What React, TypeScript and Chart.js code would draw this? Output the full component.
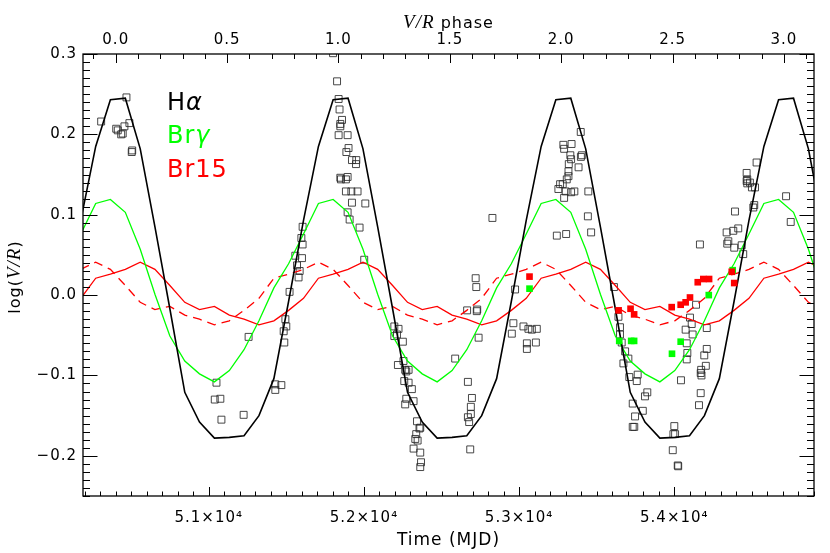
import React, { useEffect, useRef } from 'react';
import { Chart, registerables } from 'chart.js';

Chart.register(...registerables);

// ---- axis ranges and tick labels ----
const mjdRange = [50190, 54900];
const phaseRange = [-0.147, 3.135];
const logVRRange = [-0.25, 0.3];
const mjdTicks = [51000, 52000, 53000, 54000];
const phaseTicks = [0, 0.5, 1, 1.5, 2, 2.5, 3];
const logVRTicks = [-0.2, -0.1, 0, 0.1, 0.2, 0.3];

// ---- model curves (x in V/R phase) ----
const modelPhase = [
  -0.157, -0.09, -0.024, 0.043, 0.11, 0.176, 0.243, 0.31, 0.376, 0.443, 0.51, 0.576, 0.643, 0.71, 0.776, 0.843, 0.91,
  0.976, 1.043, 1.11, 1.176, 1.243, 1.31, 1.376, 1.443, 1.51, 1.576, 1.643, 1.71, 1.776, 1.843, 1.91,
  1.976, 2.043, 2.11, 2.176, 2.243, 2.31, 2.376, 2.443, 2.51, 2.576, 2.643, 2.71, 2.776, 2.843, 2.91,
  2.976, 3.043, 3.11, 3.176,
];
const modelHalpha = [
  0.093, 0.185, 0.243, 0.245, 0.182, 0.085, -0.017, -0.121, -0.158, -0.178, -0.177, -0.175, -0.15, -0.104, -0.008, 0.093, 0.185,
  0.243, 0.245, 0.182, 0.085, -0.017, -0.121, -0.158, -0.178, -0.177, -0.175, -0.15, -0.104, -0.008, 0.093, 0.185,
  0.243, 0.245, 0.182, 0.085, -0.017, -0.121, -0.158, -0.178, -0.177, -0.175, -0.15, -0.104, -0.008, 0.093, 0.185,
  0.243, 0.245, 0.182, 0.085,
];
const modelBrGamma = [
  0.076, 0.114, 0.119, 0.103, 0.057, 0.001, -0.051, -0.082, -0.098, -0.108, -0.094, -0.068, -0.032, 0.009, 0.039, 0.076, 0.114,
  0.119, 0.103, 0.057, 0.001, -0.051, -0.082, -0.098, -0.108, -0.094, -0.068, -0.032, 0.009, 0.039, 0.076, 0.114,
  0.119, 0.103, 0.057, 0.001, -0.051, -0.082, -0.098, -0.108, -0.094, -0.068, -0.032, 0.009, 0.039, 0.076, 0.114,
  0.119, 0.103, 0.057, 0.001,
];
const modelBr15 = [
  -0.004, 0.021, 0.026, 0.032, 0.041, 0.032, 0.012, -0.009, -0.018, -0.014, -0.025, -0.03, -0.037, -0.032, -0.019, -0.004, 0.021,
  0.026, 0.032, 0.041, 0.032, 0.012, -0.009, -0.018, -0.014, -0.025, -0.03, -0.037, -0.032, -0.019, -0.004, 0.021,
  0.026, 0.032, 0.041, 0.032, 0.012, -0.009, -0.018, -0.014, -0.025, -0.03, -0.037, -0.032, -0.019, -0.004, 0.021,
  0.026, 0.032, 0.041, 0.032,
];
const modelBr15Dashed = [
  0.032, 0.041, 0.032, 0.012, -0.009, -0.018, -0.014, -0.025, -0.03, -0.037, -0.032, -0.019, -0.004, 0.021, 0.026, 0.032, 0.041,
  0.032, 0.012, -0.009, -0.018, -0.014, -0.025, -0.03, -0.037, -0.032, -0.019, -0.004, 0.021, 0.026, 0.032, 0.041,
  0.032, 0.012, -0.009, -0.018, -0.014, -0.025, -0.03, -0.037, -0.032, -0.019, -0.004, 0.021, 0.026, 0.032, 0.041,
  0.032, 0.012, -0.009, -0.018,
];

// ---- observations: [MJD, log(V/R)] ----
const halphaObs: [number, number][] = [
  [50307, 0.216], [50404, 0.207], [50414, 0.205], [50436, 0.2], [50446, 0.201], [50457, 0.21], [50470, 0.246],
  [50489, 0.214], [50504, 0.178], [50507, 0.18],
  [51039, -0.13], [51050, -0.109], [51075, -0.129], [51082, -0.155], [51225, -0.149], [51257, -0.052],
  [51429, -0.111], [51429, -0.118], [51468, -0.112], [51483, -0.045], [51487, -0.059], [51494, -0.03], [51500, -0.039],
  [51521, 0.004], [51558, 0.049], [51569, 0.037], [51579, 0.022], [51586, 0.03], [51597, 0.071], [51601, 0.046],
  [51605, 0.063], [51605, 0.085],
  [51801, 0.301], [51827, 0.266], [51837, 0.244], [51843, 0.231], [51848, 0.213], [51848, 0.21], [51859, 0.218],
  [51837, 0.199], [51895, 0.199], [51901, 0.183], [51887, 0.178], [51923, 0.168], [51951, 0.168], [51949, 0.163],
  [51848, 0.146], [51895, 0.147], [51884, 0.144], [51884, 0.129], [51919, 0.129], [51959, 0.129], [51852, 0.144],
  [51923, 0.115], [52009, 0.114], [51895, 0.103], [51908, 0.094], [51972, 0.084], [52002, 0.044],
  [52196, -0.039], [52223, -0.042], [52196, -0.051], [52213, -0.049], [52251, -0.058], [52219, -0.087], [52255, -0.082],
  [52266, -0.093], [52288, -0.093], [52273, -0.095], [52260, -0.107], [52288, -0.109], [52309, -0.117], [52273, -0.129],
  [52320, -0.132], [52266, -0.136], [52342, -0.157], [52358, -0.166], [52363, -0.165], [52331, -0.179], [52346, -0.181],
  [52337, -0.173], [52320, -0.191], [52363, -0.196], [52368, -0.208], [52363, -0.214],
  [52588, -0.079], [52665, -0.019], [52730, -0.018], [52727, -0.02], [52720, 0.021], [52724, 0.01], [52739, -0.053],
  [52828, 0.096], [52670, -0.108], [52696, -0.128], [52689, -0.139], [52689, -0.148], [52670, -0.152], [52678, -0.158],
  [52685, -0.192],
  [52974, 0.007], [52963, -0.035], [52953, -0.048], [53028, -0.039], [53060, -0.042], [53082, -0.043], [53114, -0.042],
  [53050, -0.06], [53050, -0.067], [53108, -0.059],
  [53397, 0.203], [53285, 0.187], [53290, 0.182], [53338, 0.188], [53330, 0.174], [53335, 0.169], [53404, 0.174],
  [53398, 0.172], [53320, 0.163], [53383, 0.159], [53318, 0.154], [53318, 0.148], [53307, 0.144], [53281, 0.138],
  [53253, 0.132], [53335, 0.128], [53356, 0.129], [53446, 0.129], [53300, 0.129], [53264, 0.138], [53290, 0.121],
  [53443, 0.098], [53464, 0.078], [53243, 0.074], [53303, 0.076],
  [53611, 0.01], [53640, -0.027], [53650, -0.04], [53650, -0.049], [53661, -0.059], [53683, -0.07], [53704, -0.079],
  [53672, -0.085], [53710, -0.102], [53764, -0.099], [53758, -0.107], [53826, -0.121], [53811, -0.126], [53732, -0.135],
  [53797, -0.144], [53747, -0.151], [53732, -0.164], [53742, -0.164],
  [54000, -0.163], [53994, -0.173], [54005, -0.173], [53990, -0.193], [54022, -0.212], [54025, -0.213], [54043, -0.106],
  [54170, -0.097], [54175, -0.1], [54170, -0.122], [54159, -0.137], [54101, -0.028], [54112, -0.036], [54073, -0.043],
  [54118, -0.049], [54140, -0.012], [54080, -0.06], [54209, -0.041], [54209, -0.067], [54193, -0.075], [54084, -0.072],
  [54080, -0.08], [54203, -0.088], [54173, -0.093], [54165, 0.063],
  [54391, 0.104], [54337, 0.078], [54380, 0.08], [54412, 0.083], [54348, 0.067], [54341, 0.064], [54386, 0.059],
  [54434, 0.062], [54444, 0.051], [54509, 0.109], [54515, 0.112], [54487, 0.14], [54520, 0.134], [54466, 0.142],
  [54720, 0.123], [54750, 0.091], [54530, 0.165], [54466, 0.152], [54470, 0.144], [54470, 0.139], [54500, 0.134],
];
const br15Obs: [number, number][] = [
  [53067, 0.023], [53641, -0.019], [53718, -0.017], [53741, -0.024], [53983, -0.015], [54041, -0.012], [54073, -0.009],
  [54101, -0.003], [54151, 0.016], [54187, 0.02], [54224, 0.02], [54370, 0.029], [54386, 0.015],
];
const brGammaObs: [number, number][] = [
  [53067, 0.008], [53645, -0.057], [53722, -0.057], [53741, -0.057], [54041, -0.058], [53985, -0.073], [54222, 0.0],
  [54376, 0.031],
];

// ---- minor tick settings ----
const mjdMinorStep = 100;
const phaseMinorStep = 0.1;
const logVRMinorStep = 0.01;

const SANS = '"DejaVu Sans", sans-serif';
const SERIF_IT = 'italic 19px "Liberation Serif", serif';

const BLACK = '#000000';
const GREEN = '#00ff00';
const RED = '#ff0000';

type Run = [string, string, string];

function drawRuns(ctx: CanvasRenderingContext2D, runs: Run[], cx: number, y: number) {
  let total = 0;
  const widths = runs.map(([t, f]) => {
    ctx.font = f;
    const w = ctx.measureText(t).width;
    total += w;
    return w;
  });
  let x = cx - total / 2;
  runs.forEach(([t, f, c], i) => {
    ctx.font = f;
    ctx.fillStyle = c;
    ctx.fillText(t, x, y);
    x += widths[i];
  });
}

function drawRunsLeft(ctx: CanvasRenderingContext2D, runs: Run[], x0: number, y: number) {
  let x = x0;
  runs.forEach(([t, f, c]) => {
    ctx.font = f;
    ctx.fillStyle = c;
    ctx.fillText(t, x, y);
    x += ctx.measureText(t).width;
  });
}

const isIn = (v: number, list: number[]) => list.some((t) => Math.abs(t - v) < 1e-7);

const decorPlugin = {
  id: 'idlDecor',
  beforeDraw(chart: any) {
    (chart.ctx as any).letterSpacing = '1px';
  },
  afterDraw(chart: any) {
    const ctx: CanvasRenderingContext2D = chart.ctx;
    const a = chart.chartArea;
    const sx = chart.scales.x;
    const sp = chart.scales.x2;
    const sy = chart.scales.y;
    ctx.save();
    ctx.strokeStyle = BLACK;
    ctx.lineWidth = 1;
    const seg = (x1: number, y1: number, x2: number, y2: number) => {
      ctx.beginPath();
      ctx.moveTo(x1, y1);
      ctx.lineTo(x2, y2);
      ctx.stroke();
    };

    // y ticks, left and right (inward)
    const yStart = Math.ceil(logVRRange[0] / logVRMinorStep - 1e-9);
    const yEnd = Math.floor(logVRRange[1] / logVRMinorStep + 1e-9);
    for (let i = yStart; i <= yEnd; i++) {
      const v = i * logVRMinorStep;
      const py = Math.round(sy.getPixelForValue(v)) + 0.5;
      const L = isIn(v, logVRTicks) ? 14.5 : 7;
      seg(a.left, py, a.left + L, py);
      seg(a.right, py, a.right - L, py);
    }
    // bottom MJD ticks
    const xStart = Math.ceil(mjdRange[0] / mjdMinorStep);
    const xEnd = Math.floor(mjdRange[1] / mjdMinorStep);
    for (let i = xStart; i <= xEnd; i++) {
      const v = i * mjdMinorStep;
      const px = Math.round(sx.getPixelForValue(v)) + 0.5;
      const L = isIn(v, mjdTicks) ? 9 : 4.5;
      seg(px, a.bottom, px, a.bottom - L);
    }
    // top phase ticks
    const pStart = Math.ceil(phaseRange[0] / phaseMinorStep);
    const pEnd = Math.floor(phaseRange[1] / phaseMinorStep);
    for (let i = pStart; i <= pEnd; i++) {
      const v = i * phaseMinorStep;
      const px = Math.round(sp.getPixelForValue(v)) + 0.5;
      const L = isIn(v, phaseTicks) ? 9 : 5;
      seg(px, a.top, px, a.top + L);
    }
    // frame
    ctx.lineWidth = 1.3;
    ctx.strokeRect(a.left, a.top, a.right - a.left, a.bottom - a.top);

    // titles with italic V/R
    (ctx as any).letterSpacing = '1px';
    ctx.textBaseline = 'alphabetic';
    drawRuns(
      ctx,
      [
        ['V/R', SERIF_IT, BLACK],
        [' phase', '16px ' + SANS, BLACK],
      ],
      (a.left + a.right) / 2,
      27.5
    );
    ctx.save();
    ctx.translate(19.5, (a.top + a.bottom) / 2 + 2);
    ctx.rotate(-Math.PI / 2);
    drawRuns(
      ctx,
      [
        ['log(', '16px ' + SANS, BLACK],
        ['V/R', SERIF_IT, BLACK],
        [')', '16px ' + SANS, BLACK],
      ],
      0,
      0
    );
    ctx.restore();

    // legend text
    drawRunsLeft(ctx, [['H', '24px ' + SANS, BLACK], ['α', 'italic 24px ' + SANS, BLACK]], 167, 110);
    drawRunsLeft(ctx, [['Br', '24px ' + SANS, GREEN], ['γ', 'italic 24px ' + SANS, GREEN]], 167, 143.3);
    drawRunsLeft(ctx, [['Br15', '24px ' + SANS, RED]], 167, 176.7);
    ctx.restore();
  },
};

const setTicks = (list: number[]) => (s: any) => {
  s.ticks = list.map((value) => ({ value }));
};

export default function App() {
  const canvasRef = useRef<HTMLCanvasElement | null>(null);

  useEffect(() => {
    const canvas = canvasRef.current;
    if (!canvas) return;

    const modelLine = (values: number[], color: string, width: number, dash: number[] = []) => ({
      type: 'scatter' as const,
      data: modelPhase.map((p, i) => ({ x: p, y: values[i] })),
      xAxisID: 'x2',
      yAxisID: 'y',
      showLine: true,
      borderColor: color,
      borderWidth: width,
      borderDash: dash,
      pointRadius: 0,
      pointHoverRadius: 0,
      fill: false,
      tension: 0,
      clip: 0,
      order: 1,
    });

    const obs = (pts: [number, number][], fillColor: string | null, strokeColor: string, r: number, order: number) => ({
      type: 'scatter' as const,
      data: pts.map(([m, v]) => ({ x: m, y: v })),
      xAxisID: 'x',
      yAxisID: 'y',
      showLine: false,
      pointStyle: 'rect',
      pointRadius: r,
      pointHoverRadius: r,
      pointBackgroundColor: fillColor ?? 'rgba(0,0,0,0)',
      pointBorderColor: strokeColor,
      pointBorderWidth: fillColor ? 0 : 1,
      order,
    });

    const tickFont = { family: SANS, size: 15 };

    const chart = new Chart(canvas, {
      type: 'scatter',
      data: {
        datasets: [
          obs(br15Obs, RED, RED, 4.7, 0),
          obs(brGammaObs, GREEN, GREEN, 4.7, 0),
          modelLine(modelHalpha, BLACK, 1.6),
          modelLine(modelBrGamma, GREEN, 1.3),
          modelLine(modelBr15, RED, 1.3),
          modelLine(modelBr15Dashed, RED, 1.3, [9, 6]),
          obs(halphaObs, null, 'rgba(40,40,40,0.85)', 4.9, 2),
        ] as any,
      },
      options: {
        responsive: false,
        maintainAspectRatio: false,
        devicePixelRatio: 1,
        animation: false,
        events: [],
        layout: { padding: { left: 0, right: 16, top: 0, bottom: 0 } },
        plugins: {
          legend: { display: false },
          tooltip: { enabled: false },
          title: { display: false },
        },
        scales: {
          x: {
            type: 'linear',
            position: 'bottom',
            bounds: 'data',
            min: mjdRange[0],
            max: mjdRange[1],
            grid: { display: false, drawTicks: false },
            border: { display: false },
            afterBuildTicks: setTicks(mjdTicks),
            ticks: {
              autoSkip: false,
              maxRotation: 0,
              padding: 13,
              color: BLACK,
              font: tickFont,
              callback: (v: any) => (Number(v) / 10000).toFixed(1) + '×10⁴',
            },
            title: {
              display: true,
              text: 'Time (MJD)',
              color: BLACK,
              font: { family: SANS, size: 17 },
              padding: { top: 0, bottom: 2 },
            },
            afterFit: (s: any) => {
              s.height = 57;
            },
          },
          x2: {
            type: 'linear',
            position: 'top',
            bounds: 'data',
            min: phaseRange[0],
            max: phaseRange[1],
            grid: { display: false, drawTicks: false },
            border: { display: false },
            afterBuildTicks: setTicks(phaseTicks),
            ticks: {
              autoSkip: false,
              maxRotation: 0,
              padding: 5,
              color: BLACK,
              font: tickFont,
              callback: (v: any) => Number(v).toFixed(1),
            },
            afterFit: (s: any) => {
              s.height = 54;
            },
          },
          y: {
            type: 'linear',
            position: 'left',
            bounds: 'data',
            min: logVRRange[0],
            max: logVRRange[1],
            grid: { display: false, drawTicks: false },
            border: { display: false },
            afterBuildTicks: setTicks(logVRTicks),
            ticks: {
              autoSkip: false,
              padding: 6,
              color: BLACK,
              font: tickFont,
              callback: (v: any) => {
                const n = Number(v);
                return (n < 0 ? '\u2212' : '') + Math.abs(n).toFixed(1);
              },
            },
            afterFit: (s: any) => {
              s.width = 83;
            },
          },
        },
      } as any,
      plugins: [decorPlugin],
    });

    return () => {
      chart.destroy();
    };
  }, []);

  return (
    <div style={{ position: 'absolute', left: 0, top: 0, width: 830, height: 553, background: '#ffffff' }}>
      <canvas ref={canvasRef} width={830} height={553} style={{ display: 'block', width: 830, height: 553 }} />
    </div>
  );
}
